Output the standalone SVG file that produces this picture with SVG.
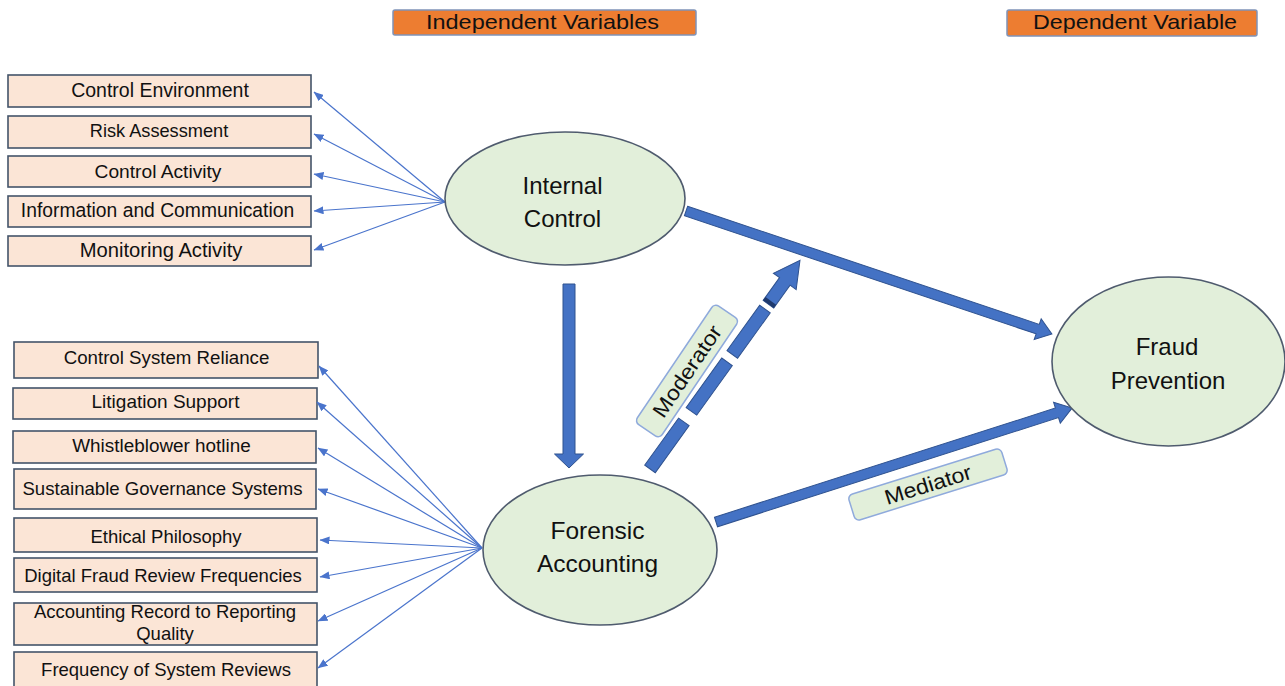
<svg xmlns="http://www.w3.org/2000/svg" width="1285" height="686" viewBox="0 0 1285 686">
  <defs>
    <marker id="tip" viewBox="0 0 10 8" refX="9.5" refY="4" markerWidth="10" markerHeight="8" markerUnits="userSpaceOnUse" orient="auto">
      <path d="M0,0 L10,4 L0,8 z" fill="#4A74CC"/>
    </marker>
    <style>
      text { font-family: "Liberation Sans", Arial, sans-serif; fill: #111; }
      .hdr { fill: #ED7D31; stroke: #7F93B8; stroke-width: 1.5; }
      .hdr-t { font-size: 21px; text-anchor: middle; }
      .ind { fill: #FBE5D6; stroke: #44546A; stroke-width: 1.6; }
      .ind-t { font-size: 18.7px; text-anchor: middle; }
      .node { fill: #E2EFDA; stroke: #4F5B6E; stroke-width: 1.6; }
      .node-t { font-size: 24px; text-anchor: middle; }
      .fan { stroke: #4A74CC; stroke-width: 1.2; fill: none; marker-end: url(#tip); }
      .block { fill: #4472C4; stroke: #2F528F; stroke-width: 1; stroke-linejoin: miter; }
      .bevel { fill: #1F3A6E; }
      .lbl { fill: #E2EFDA; stroke: #8FAADC; stroke-width: 1.5; }
      .lbl-t { font-size: 21px; text-anchor: middle; }
    </style>
  </defs>
  <rect width="1285" height="686" fill="#ffffff"/>

  <!-- column headers -->
  <g id="hdr-independent">
    <rect class="hdr" x="393" y="10" width="303" height="25" rx="2"/>
    <text class="hdr-t" x="542.5" y="29" textLength="233" lengthAdjust="spacingAndGlyphs">Independent Variables</text>
  </g>
  <g id="hdr-dependent">
    <rect class="hdr" x="1007" y="10" width="250" height="26" rx="2"/>
    <text class="hdr-t" x="1135" y="29" textLength="204" lengthAdjust="spacingAndGlyphs">Dependent Variable</text>
  </g>

  <!-- internal control indicators -->
  <g id="ic-environment">
    <rect class="ind" x="8" y="75" width="303" height="32"/>
    <text class="ind-t" x="160" y="97" style="font-size:19.5px">Control Environment</text>
  </g>
  <g id="ic-risk">
    <rect class="ind" x="8" y="116" width="303" height="32"/>
    <text class="ind-t" x="159" y="137" style="font-size:18.2px">Risk Assessment</text>
  </g>
  <g id="ic-activity">
    <rect class="ind" x="8" y="156" width="303" height="31"/>
    <text class="ind-t" x="158" y="178" style="font-size:19.2px">Control Activity</text>
  </g>
  <g id="ic-information">
    <rect class="ind" x="8" y="196" width="303" height="31"/>
    <text class="ind-t" x="157.5" y="217" style="font-size:19.3px">Information and Communication</text>
  </g>
  <g id="ic-monitoring">
    <rect class="ind" x="8" y="236" width="303" height="30"/>
    <text class="ind-t" x="161" y="257" style="font-size:20.2px">Monitoring Activity</text>
  </g>

  <!-- forensic accounting indicators -->
  <g id="fa-reliance">
    <rect class="ind" x="14" y="342" width="304" height="36"/>
    <text class="ind-t" x="166.5" y="364">Control System Reliance</text>
  </g>
  <g id="fa-litigation">
    <rect class="ind" x="13" y="388" width="304" height="31"/>
    <text class="ind-t" x="165.5" y="408" style="font-size:19px">Litigation Support</text>
  </g>
  <g id="fa-whistleblower">
    <rect class="ind" x="13" y="431" width="303" height="32"/>
    <text class="ind-t" x="161.5" y="452" style="font-size:18.9px">Whistleblower hotline</text>
  </g>
  <g id="fa-governance">
    <rect class="ind" x="14" y="469" width="302" height="40"/>
    <text class="ind-t" x="162.5" y="495" style="font-size:18.6px">Sustainable Governance Systems</text>
  </g>
  <g id="fa-ethics">
    <rect class="ind" x="14" y="518" width="303" height="34"/>
    <text class="ind-t" x="166" y="543" style="font-size:18.5px">Ethical Philosophy</text>
  </g>
  <g id="fa-digital">
    <rect class="ind" x="14" y="558" width="303" height="34"/>
    <text class="ind-t" x="163" y="582" style="font-size:18.5px">Digital Fraud Review Frequencies</text>
  </g>
  <g id="fa-record">
    <rect class="ind" x="14" y="603" width="303" height="42"/>
    <text class="ind-t" x="165" y="618" style="font-size:18.5px">Accounting Record to Reporting</text>
    <text class="ind-t" x="165" y="640" style="font-size:18.5px">Quality</text>
  </g>
  <g id="fa-frequency">
    <rect class="ind" x="14" y="652" width="303" height="40"/>
    <text class="ind-t" x="166" y="676" style="font-size:18.5px">Frequency of System Reviews</text>
  </g>

  <!-- connectors -->
  <g id="connectors">
    <!-- internal control fan -->
    <line class="fan" x1="445" y1="202" x2="314" y2="92"/>
    <line class="fan" x1="445" y1="202" x2="314" y2="134"/>
    <line class="fan" x1="445" y1="202" x2="314" y2="174"/>
    <line class="fan" x1="445" y1="202" x2="314" y2="211"/>
    <line class="fan" x1="445" y1="202" x2="314" y2="250"/>
    <!-- forensic accounting fan -->
    <line class="fan" x1="482" y1="548" x2="319" y2="366"/>
    <line class="fan" x1="482" y1="548" x2="317" y2="402"/>
    <line class="fan" x1="482" y1="548" x2="318" y2="448"/>
    <line class="fan" x1="482" y1="548" x2="318" y2="489"/>
    <line class="fan" x1="482" y1="548" x2="320" y2="540"/>
    <line class="fan" x1="482" y1="548" x2="320" y2="577"/>
    <line class="fan" x1="482" y1="548" x2="318" y2="621"/>
    <line class="fan" x1="482" y1="548" x2="318" y2="668"/>

    <!-- internal control -> forensic accounting -->
    <polygon class="block" points="563,284 575,284 575,454 583.5,454 569,468 554.5,454 563,454"/>

    <!-- internal control -> fraud prevention -->
    <polygon class="block" transform="translate(686,211) rotate(18.57)" points="0,-5 371,-5 371,-11 386,0 371,11 371,5 0,5"/>

    <!-- forensic accounting -> fraud prevention (mediated) -->
    <polygon class="block" transform="translate(716,522) rotate(-17.76)" points="0,-5 358,-5 358,-11 374,0 358,11 358,5 0,5"/>

    <!-- moderating path, dashed -->
    <g transform="translate(650,469) rotate(-54.3)">
      <rect class="block" x="0" y="-6.5" width="58" height="13"/>
      <rect class="block" x="71" y="-6.5" width="61" height="13"/>
      <rect class="block" x="141" y="-6.5" width="56" height="13"/>
      <polygon class="block" points="203,-6.5 231,-6.5 231,-14 257,0 231,14 231,6.5 203,6.5"/>
      <rect class="bevel" x="203" y="-6.5" width="4" height="13"/>
    </g>
  </g>

  <!-- path labels -->
  <g id="label-moderator" transform="translate(687,371) rotate(-56)">
    <rect class="lbl" x="-71.5" y="-15" width="143" height="30" rx="5"/>
    <text class="lbl-t" x="0" y="7.5" textLength="106" lengthAdjust="spacingAndGlyphs">Moderator</text>
  </g>
  <g id="label-mediator" transform="translate(928,484.5) rotate(-17.3)">
    <rect class="lbl" x="-80" y="-13.5" width="160" height="27" rx="5"/>
    <text class="lbl-t" x="0" y="7.5" textLength="90" lengthAdjust="spacingAndGlyphs">Mediator</text>
  </g>

  <!-- constructs -->
  <g id="internal-control">
    <ellipse class="node" cx="565" cy="198.5" rx="120" ry="66.5"/>
    <text class="node-t" x="562.5" y="194">Internal</text>
    <text class="node-t" x="562.5" y="227">Control</text>
  </g>
  <g id="forensic-accounting">
    <ellipse class="node" cx="600" cy="550" rx="117" ry="75"/>
    <text class="node-t" x="597.5" y="538.5" style="font-size:24.5px">Forensic</text>
    <text class="node-t" x="597.5" y="572" style="font-size:24.5px">Accounting</text>
  </g>
  <g id="fraud-prevention">
    <ellipse class="node" cx="1168.5" cy="361.5" rx="116.5" ry="84.5"/>
    <text class="node-t" x="1167" y="355">Fraud</text>
    <text class="node-t" x="1168" y="389">Prevention</text>
  </g>
</svg>
